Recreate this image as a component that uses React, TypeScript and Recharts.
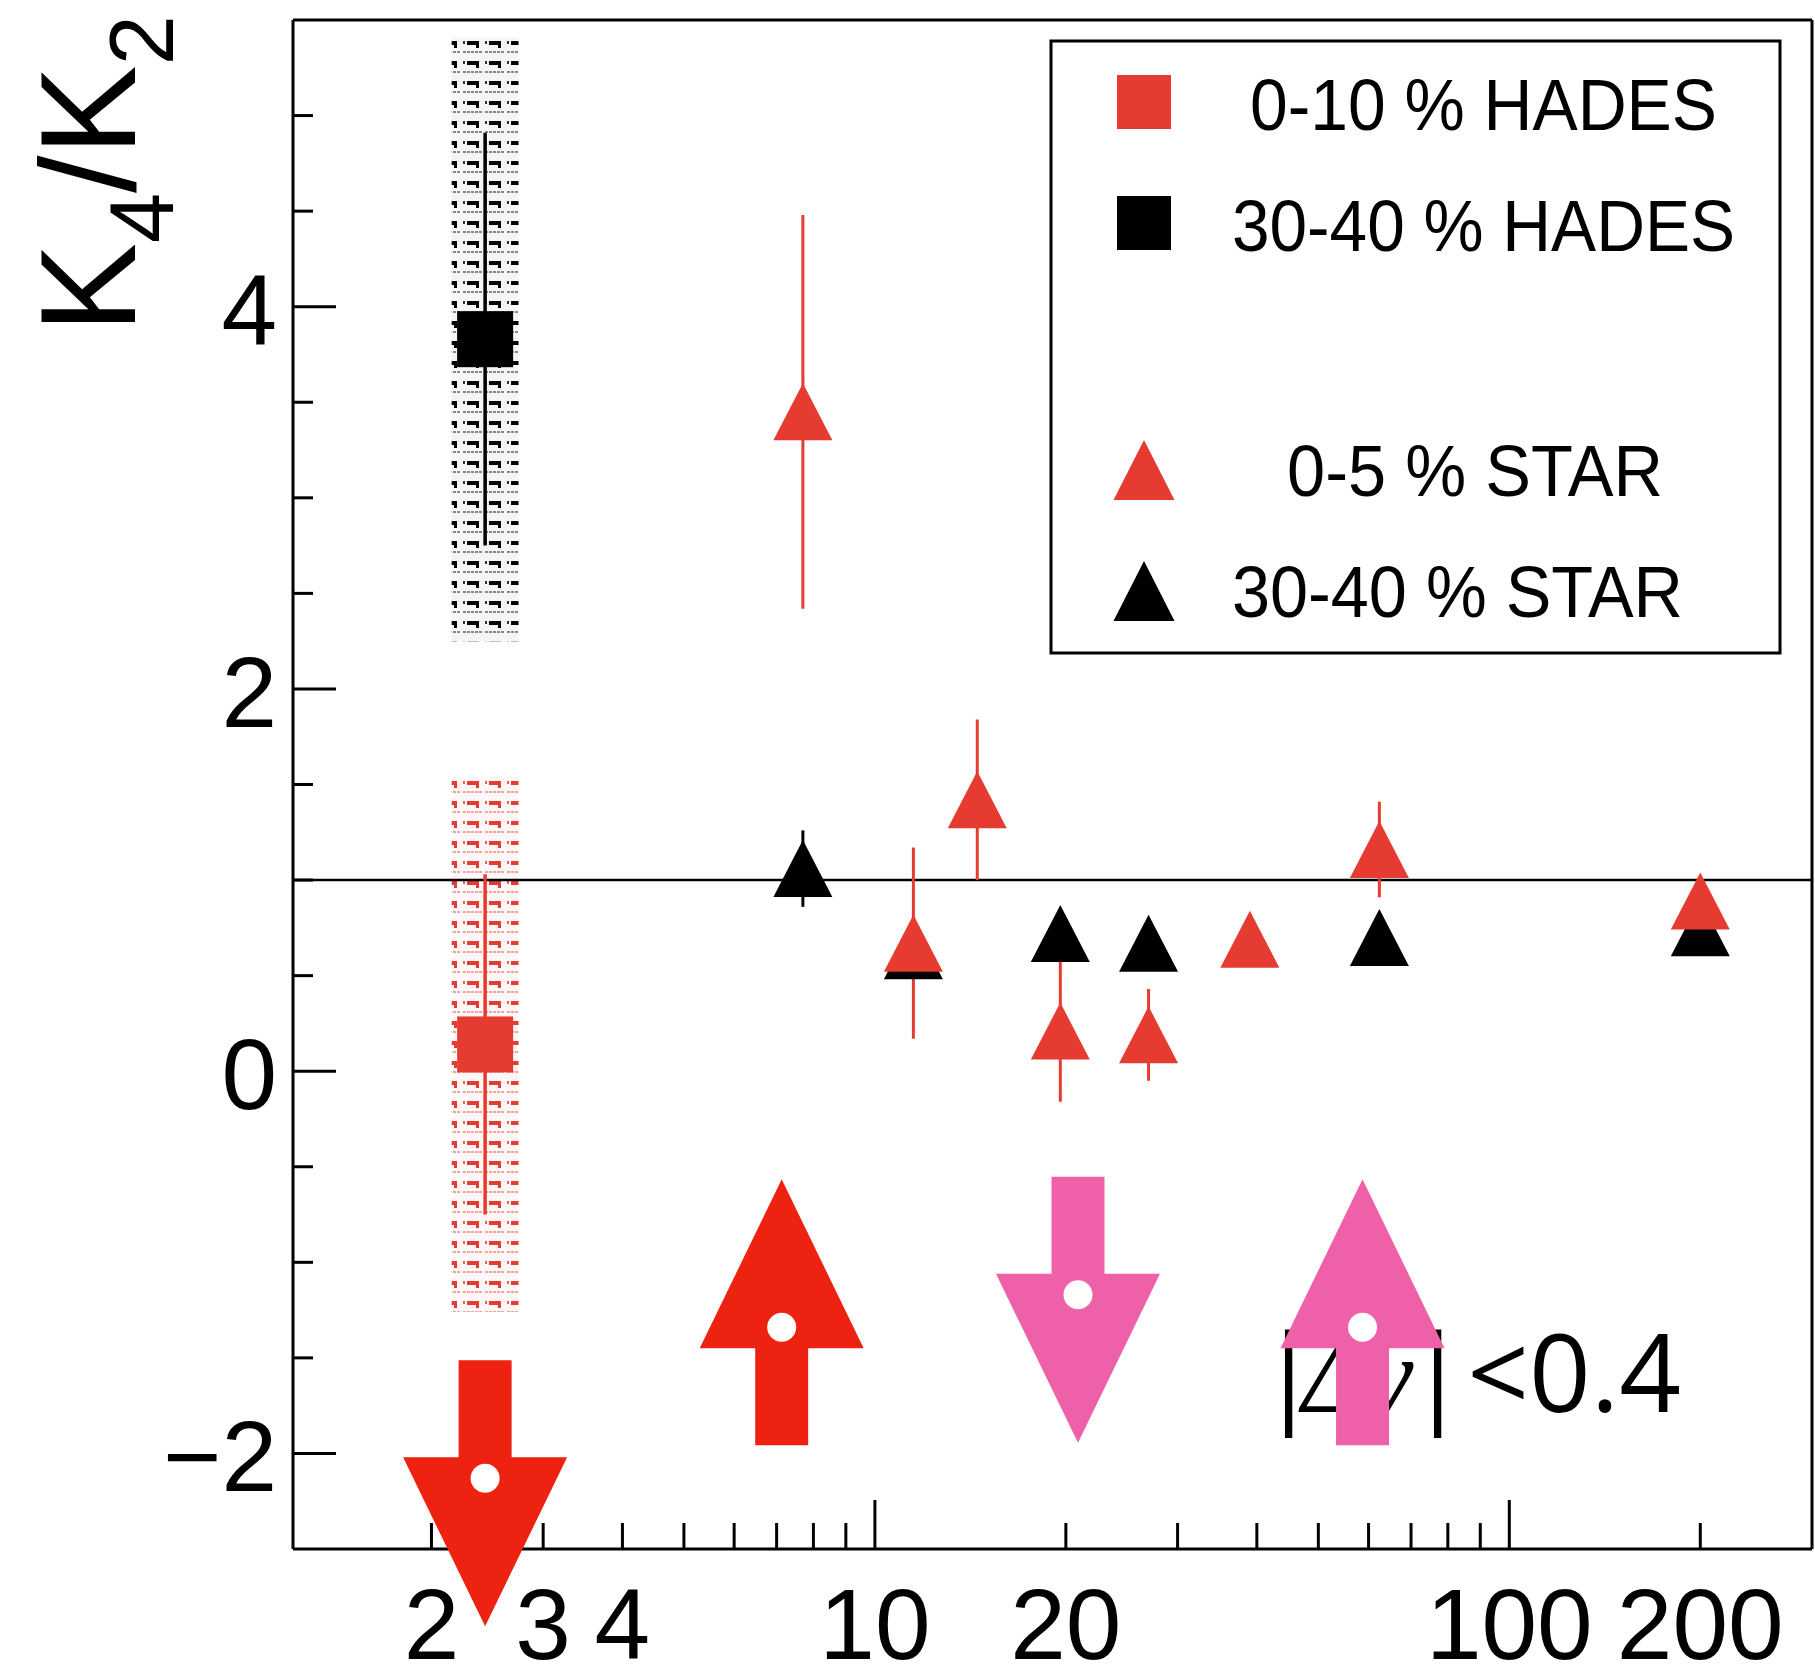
import React from "react";
import {
  ErrorBar,
  ReferenceArea,
  ReferenceLine,
  Scatter,
  ScatterChart,
  XAxis,
  YAxis,
} from "recharts";

// sqrt(s_NN) in GeV
const hadesEnergy = [2.43];
const hadesCentralVal = [0.14];
const hadesCentralStat = [0.89];
const hadesCentralSys = [1.4];
const hadesPeriphVal = [3.83];
const hadesPeriphStat = [1.08];
const hadesPeriphSys = [1.58];

const starCentralEnergy = [7.7, 11.5, 14.5, 19.6, 27, 39, 62.4, 200];
const starCentralVal = [3.45, 0.67, 1.42, 0.21, 0.19, 0.69, 1.16, 0.89];
const starCentralErr = [1.03, 0.5, 0.42, 0.37, 0.24, 0.06, 0.25, 0.05];

const starPeriphEnergy = [7.7, 11.5, 19.6, 27, 62.4, 200];
const starPeriphVal = [1.06, 0.63, 0.72, 0.67, 0.7, 0.75];
const starPeriphErr = [0.2, 0.04, 0.04, 0.04, 0.04, 0.03];

// overlay arrows: position of the white dot, direction, colour group
const arrowEnergy = [2.43, 7.13, 20.9, 58.7];
const arrowVal = [-2.13, -1.34, -1.17, -1.34];
const arrowDir = ["down", "up", "down", "up"];
const arrowGroup = ["red", "red", "pink", "pink"];

const xTicks = [2, 3, 4, 5, 6, 7, 8, 9, 10, 20, 30, 40, 50, 60, 70, 80, 90, 100, 200];
const xLabels = [2, 3, 4, 10, 20, 100, 200];
const xMajor = [10, 100];
const yTicks = [-2, -1.5, -1, -0.5, 0, 0.5, 1, 1.5, 2, 2.5, 3, 3.5, 4, 4.5, 5];
const yLabels = [-2, 0, 2, 4];

const legendItems = [
  { label: "0-10 % HADES", color: "red", shape: "square" },
  { label: "30-40 % HADES", color: "black", shape: "square" },
  { label: "0-5 % STAR", color: "red", shape: "triangle" },
  { label: "30-40 % STAR", color: "black", shape: "triangle" },
];

const RED = "#E63B30";
const BLACK = "#000000";
const ARROW = { red: "#EE2211", pink: "#EE60A8" } as Record<string, string>;
const FONT = "'Liberation Sans', Arial, Helvetica, sans-serif";
const BOX_HALF = 1.129; // multiplicative half-width of the systematic boxes on the log axis

const zip = (xs: number[], ys: number[], es: number[]) =>
  xs.map((x, i) => ({ x, y: ys[i], err: es[i] }));

const hadesCentral = zip(hadesEnergy, hadesCentralVal, hadesCentralStat);
const hadesPeriph = zip(hadesEnergy, hadesPeriphVal, hadesPeriphStat);
const starCentral = zip(starCentralEnergy, starCentralVal, starCentralErr);
const starPeriph = zip(starPeriphEnergy, starPeriphVal, starPeriphErr);
const arrows = arrowEnergy.map((x, i) => ({ x, y: arrowVal[i], dir: arrowDir[i], group: arrowGroup[i] }));

function Square({ cx, cy, color, size = 56 }: any) {
  return <rect x={cx - size / 2} y={cy - size / 2} width={size} height={size} fill={color} />;
}

function Triangle({ cx, cy, color, w = 59, h = 57 }: any) {
  return (
    <polygon
      points={`${cx - w / 2},${cy + h / 2} ${cx + w / 2},${cy + h / 2} ${cx},${cy - h / 2}`}
      fill={color}
    />
  );
}

function Arrow({ cx, cy, payload }: any) {
  const s = payload.dir === "down" ? 1 : -1;
  const color = ARROW[payload.group];
  const shaft = 26.5;
  const head = 82;
  const pts = [
    [cx - shaft, cy - s * 118],
    [cx + shaft, cy - s * 118],
    [cx + shaft, cy - s * 21],
    [cx + head, cy - s * 21],
    [cx, cy + s * 148],
    [cx - head, cy - s * 21],
    [cx - shaft, cy - s * 21],
  ];
  return (
    <g>
      <polygon points={pts.map((p) => p.join(",")).join(" ")} fill={color} />
      <circle cx={cx} cy={cy} r={14.5} fill="#fff" />
    </g>
  );
}

function XTick({ x, y, payload }: any) {
  const v = payload.value;
  const len = xMajor.includes(v) ? 49 : 26;
  return (
    <g>
      <line x1={x} x2={x} y1={y} y2={y - len} stroke="#000" strokeWidth={3} />
      {xLabels.includes(v) && (
        <text x={x} y={y + 110} textAnchor="middle" fontFamily={FONT} fontSize={100} fill="#000">
          {v}
        </text>
      )}
    </g>
  );
}

function YTick({ x, y, payload }: any) {
  const v = payload.value;
  const major = yLabels.includes(v);
  return (
    <g>
      <line x1={x} x2={x + (major ? 43 : 20)} y1={y} y2={y} stroke="#000" strokeWidth={3} />
      {major && (
        <text x={x - 16} y={y + 38} textAnchor="end" fontFamily={FONT} fontSize={100} fill="#000">
          {v < 0 ? `\u2212${Math.abs(v)}` : v}
        </text>
      )}
    </g>
  );
}

function Hatch({ id, color }: { id: string; color: string }) {
  return (
    <pattern id={id} patternUnits="userSpaceOnUse" width={22} height={20}>
      <rect width={22} height={20} fill={color} opacity={0.04} />
      <rect x={1} y={1} width={2} height={3} fill={color} opacity={0.8} />
      <rect x={5} y={1} width={12} height={4} fill={color} />
      <rect x={14} y={1} width={3} height={7} fill={color} />
      {[1, 5, 9, 13, 17].map((dx) => (
        <rect key={dx} x={dx} y={11} width={3} height={2} fill={color} opacity={0.45} />
      ))}
    </pattern>
  );
}

function LegendBox() {
  const rowsY = [104, 225, 470, 591];
  const textX = [1250, 1232, 1287, 1232];
  const textLen = [467, 503, 376, 451];
  return (
    <g>
      <rect x={1051} y={41} width={729} height={612} fill="#fff" stroke="#000" strokeWidth={3} />
      {legendItems.map((it, i) => {
        const c = it.color === "red" ? RED : BLACK;
        return (
          <g key={it.label}>
            {it.shape === "square" ? (
              <Square cx={1144} cy={rowsY[i] - 2} color={c} size={54} />
            ) : (
              <Triangle cx={1144} cy={rowsY[i]} color={c} w={61} h={60} />
            )}
            <text
              x={textX[i]}
              y={rowsY[i] + 26}
              fontFamily={FONT}
              fontSize={72}
              fill="#000"
              textLength={textLen[i]}
              lengthAdjust="spacingAndGlyphs"
            >
              {it.label}
            </text>
          </g>
        );
      })}
    </g>
  );
}

export default function App() {
  return (
    <div style={{ position: "absolute", left: 0, top: 0, background: "#fff" }}>
      <ScatterChart width={1815} height={1671} margin={{ top: 20, right: 3, bottom: 0, left: 0 }}>
        <defs>
          <Hatch id="hatchRed" color={RED} />
          <Hatch id="hatchBlack" color={BLACK} />
        </defs>
        <XAxis
          type="number"
          dataKey="x"
          scale="log"
          domain={[1.21, 300]}
          ticks={xTicks}
          interval={0}
          tick={<XTick />}
          tickLine={false}
          tickSize={0}
          tickMargin={0}
          height={122}
          axisLine={{ stroke: "#000", strokeWidth: 3 }}
        />
        <YAxis
          type="number"
          dataKey="y"
          domain={[-2.5, 5.5]}
          ticks={yTicks}
          interval={0}
          tick={<YTick />}
          tickLine={false}
          tickSize={0}
          tickMargin={0}
          width={293}
          axisLine={{ stroke: "#000", strokeWidth: 3 }}
        />
        <ReferenceLine y={5.5} stroke="#000" strokeWidth={3} />
        <ReferenceLine x={300} stroke="#000" strokeWidth={3} />

        {hadesPeriph.map((d, i) => (
          <ReferenceArea
            key={`pb${i}`}
            x1={d.x / BOX_HALF}
            x2={d.x * BOX_HALF}
            y1={d.y - hadesPeriphSys[i]}
            y2={d.y + hadesPeriphSys[i]}
            fill="url(#hatchBlack)"
            fillOpacity={1}
            stroke="none"
          />
        ))}
        {hadesCentral.map((d, i) => (
          <ReferenceArea
            key={`cb${i}`}
            x1={d.x / BOX_HALF}
            x2={d.x * BOX_HALF}
            y1={d.y - hadesCentralSys[i]}
            y2={d.y + hadesCentralSys[i]}
            fill="url(#hatchRed)"
            fillOpacity={1}
            stroke="none"
          />
        ))}
        <ReferenceLine y={1} stroke="#000" strokeWidth={2.5} />

        <Scatter data={hadesPeriph} isAnimationActive={false} shape={(p: any) => <Square cx={p.cx} cy={p.cy} color={BLACK} />}>
          <ErrorBar dataKey="err" direction="y" width={0} stroke={BLACK} strokeWidth={3.5} isAnimationActive={false} />
        </Scatter>
        <Scatter data={hadesCentral} isAnimationActive={false} shape={(p: any) => <Square cx={p.cx} cy={p.cy} color={RED} />}>
          <ErrorBar dataKey="err" direction="y" width={0} stroke={RED} strokeWidth={3.5} isAnimationActive={false} />
        </Scatter>
        <Scatter data={starPeriph} isAnimationActive={false} shape={(p: any) => <Triangle cx={p.cx} cy={p.cy} color={BLACK} />}>
          <ErrorBar dataKey="err" direction="y" width={0} stroke={BLACK} strokeWidth={3} isAnimationActive={false} />
        </Scatter>
        <Scatter data={starCentral} isAnimationActive={false} shape={(p: any) => <Triangle cx={p.cx} cy={p.cy} color={RED} />}>
          <ErrorBar dataKey="err" direction="y" width={0} stroke={RED} strokeWidth={3} isAnimationActive={false} />
        </Scatter>

        <text y={1412} fontSize={108} fill="#000" fontFamily="'Open Sans', 'DejaVu Sans', sans-serif">
          <tspan x={1259}>|</tspan>
          <tspan x={1302} fontFamily="'Liberation Serif', 'DejaVu Serif', serif" fontStyle="italic">
            Δy
          </tspan>
          <tspan x={1408}>|&lt;0.4</tspan>
        </text>

        <Scatter data={arrows} isAnimationActive={false} shape={(p: any) => <Arrow {...p} />} />

        <LegendBox />

        <text
          transform="translate(135,333) rotate(-90)"
          fontFamily={FONT}
          fontSize={135}
          fill="#000"
        >
          <tspan>K</tspan>
          <tspan dy={38} fontSize={90}>4</tspan>
          <tspan dy={-38}>/K</tspan>
          <tspan dy={38} fontSize={90}>2</tspan>
        </text>
      </ScatterChart>
    </div>
  );
}
